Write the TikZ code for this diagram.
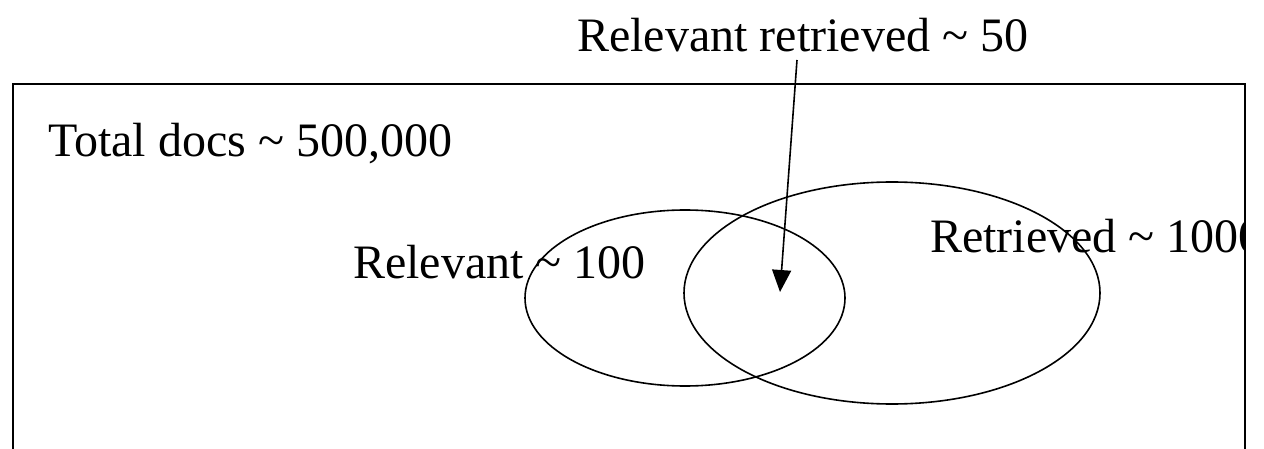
\documentclass[tikz,border=0pt]{standalone}
\usepackage{fontspec}
\setmainfont{Liberation Serif}
\usepackage{tikz}
\usetikzlibrary{arrows.meta,positioning,shapes.geometric}

\begin{document}
\begin{tikzpicture}[x=1pt, y=1pt, >=Latex,
    lbl/.style={inner sep=0pt, anchor=base west, font=\fontsize{48}{58}\selectfont},
    setshape/.style={ellipse, draw, line width=1.6pt, inner sep=0pt}]
  \useasboundingbox (0,0) rectangle (1264,-449);
  \clip (0,0) rectangle (1264,-449);
  % the whole collection
  \draw[line width=2.2pt] (13,-520) -- (13,-84) -- (1245,-84) -- (1245,-520);
  \node[lbl] (total) at (48,-157) {Total docs \textasciitilde{} 500,000};
  % the two sets
  \node[setshape, minimum width=320pt, minimum height=176pt] (relset) at (685,-298) {};
  \node[setshape, minimum width=416pt, minimum height=222pt] (retset) at (892,-293) {};
  \node[lbl] (rel) at (353,-278) {Relevant \textasciitilde{} 100};
  \begin{scope}
    \clip (0,0) rectangle (1245,-449);
    \node[lbl] (ret) at (930,-252) {Retrieved \textasciitilde{} 1000};
  \end{scope}
  % the overlap
  \node[lbl] (relret) at (577,-52) {Relevant retrieved \textasciitilde{} 50};
  \coordinate (tail) at (797,-60);
  \coordinate (hit) at (780,-292);
  \draw[-{Triangle[length=22pt,width=19pt]}, line width=1.6pt] (tail) -- (hit);
\end{tikzpicture}
\end{document}
